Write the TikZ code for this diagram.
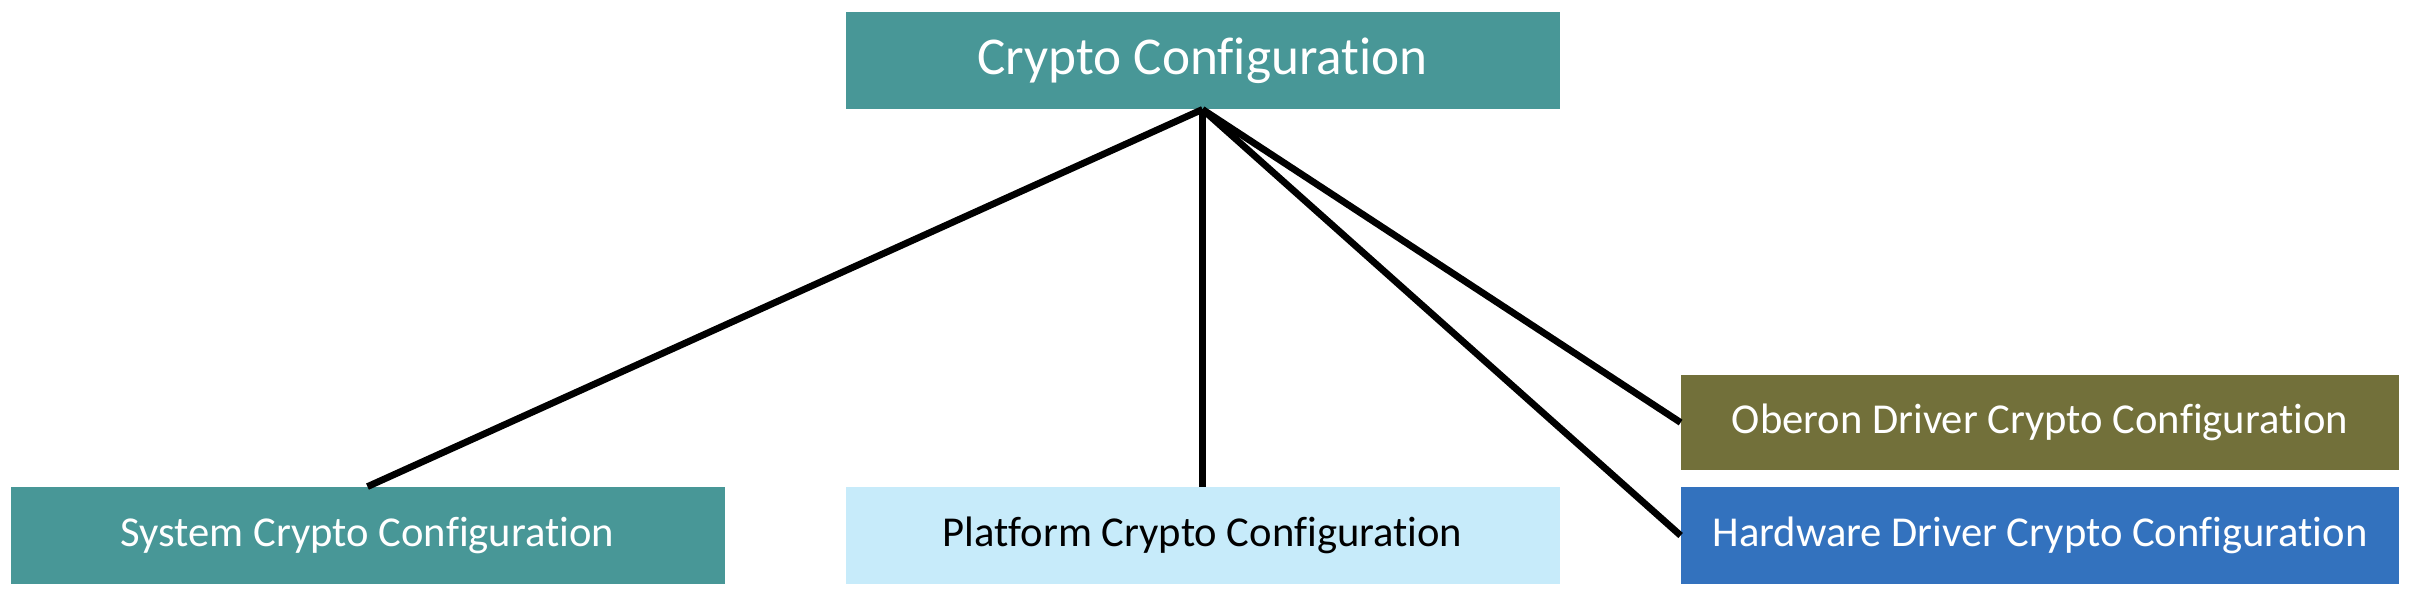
\documentclass[tikz,border=0pt]{standalone}
\usepackage{fontspec}
\setmainfont[Ligatures=NoCommon]{Carlito}
\definecolor{tealbox}{RGB}{72,151,151}
\definecolor{lightbox}{RGB}{199,235,250}
\definecolor{olivebox}{RGB}{114,112,58}
\definecolor{bluebox}{RGB}{51,114,190}
\begin{document}
\begin{tikzpicture}[x=0.5pt,y=-0.5pt,
  cbox/.style={draw=none,minimum width=357pt,minimum height=48.5pt,inner sep=0pt,font=\fontsize{21.3}{24}\selectfont,text=white},
  link/.style={line width=3.4pt,black}]
\useasboundingbox (0,0) rectangle (2410,598);
\node[cbox,fill=tealbox,font=\fontsize{26.6}{30}\selectfont] (top) at (1202.5,60.5) {Crypto Configuration};
\node[cbox,fill=tealbox] (sys) at (367.5,535.5) {System Crypto Configuration};
\node[cbox,fill=lightbox,text=black] (plat) at (1202.5,535.5) {Platform Crypto Configuration};
\node[cbox,fill=olivebox,minimum width=359pt,minimum height=47.5pt] (ober) at (2040,422.5) {Oberon Driver Crypto Configuration};
\node[cbox,fill=bluebox,minimum width=359pt] (hw) at (2040,535.5) {Hardware Driver Crypto Configuration};
\draw[link] (top.south) -- (sys.north);
\draw[link] (top.south) -- (plat.north);
\draw[link] (top.south) -- (ober.west);
\draw[link] (top.south) -- (hw.west);
\end{tikzpicture}
\end{document}
